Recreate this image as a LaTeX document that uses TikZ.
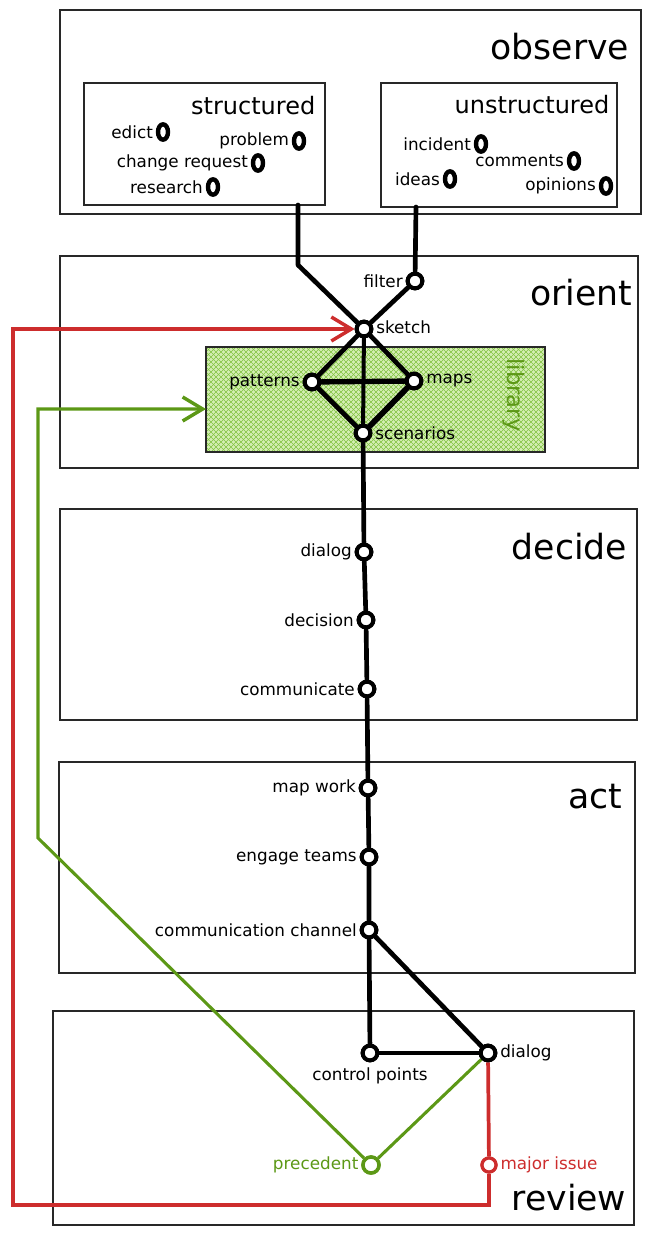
\documentclass[tikz,border=0pt]{standalone}
\usepackage{fontspec}
\setmainfont{DejaVu Sans}
\usetikzlibrary{arrows.meta,shapes.geometric}
\definecolor{myred}{RGB}{205,45,45}
\definecolor{mygreen}{RGB}{92,152,22}
\definecolor{libfill}{RGB}{212,238,180}
\definecolor{libhatch}{RGB}{130,195,65}
\definecolor{boxline}{RGB}{40,40,40}
\begin{document}
\begin{tikzpicture}[x=0.75pt,y=-0.75pt,
  panel/.style={draw=boxline,line width=1.1pt},
  ring/.style={circle,draw=black,fill=white,line width=3pt,inner sep=0pt,minimum size=11pt},
  oring/.style={ellipse,draw=black,fill=white,line width=3.3pt,inner sep=0pt,minimum width=7.5pt,minimum height=11.5pt},
  lab/.style={font=\fontsize{12.6}{15}\selectfont,inner sep=2pt},
  ttl/.style={font=\fontsize{26}{31}\selectfont},
  sub/.style={font=\fontsize{18}{21}\selectfont},
  conn/.style={line width=3.5pt,line cap=round,line join=round},
  redl/.style={draw=myred,line width=2.8pt,line join=miter},
  greenl/.style={draw=mygreen,line width=2.3pt,line join=miter},
  tip/.style={-{Straight Barb[length=15pt,width=18pt,line width=2.6pt]}},
]
\useasboundingbox (0,0) rectangle (651,1234);

% ---------- panels ----------
\draw[panel] (60,10) rectangle (641,214);
\draw[panel] (84,83) rectangle (325,205);
\draw[panel] (381,83) rectangle (617,207);
\draw[panel] (60,256) rectangle (638,468);
\draw[panel] (60,509) rectangle (637,720);
\draw[panel] (59,762) rectangle (635,973);
\draw[panel] (53,1011) rectangle (634,1225);

% library
\fill[libfill] (206,347) rectangle (545,452);
\begin{scope}
  \clip (206,347) rectangle (545,452);
  \foreach \k in {0,5,...,460} {
    \draw[libhatch,line width=0.45pt] (206+\k,347) -- ++(-110,110);
    \draw[libhatch,line width=0.45pt] (91+\k,347) -- ++(110,110);
  }
\end{scope}
\draw[draw=boxline,line width=1pt] (206,347) rectangle (545,452);
\node[font=\fontsize{17}{20}\selectfont,text=mygreen,rotate=-90] (libt) at (514,395) {library};

% ---------- titles ----------
\node[ttl,anchor=east] (tobs) at (634,47) {observe};
\node[sub,anchor=east] (tstr) at (320,106) {structured};
\node[sub,anchor=east] (tuns) at (614,105) {unstructured};
\node[ttl,anchor=east] (tori) at (637,293) {orient};
\node[ttl,anchor=east] (tdec) at (632,547) {decide};
\node[ttl,anchor=east] (tact) at (627,797) {act};
\node[ttl,anchor=east] (trev) at (631,1198) {review};

% ---------- observe items ----------
\node[oring,label={[lab]left:edict}] (edict) at (163,132) {};
\node[oring,label={[lab]left:problem}] (problem) at (299,141) {};
\node[oring,label={[lab]left:change request}] (change) at (258,163) {};
\node[oring,label={[lab]left:research}] (research) at (213,187) {};
\node[oring,label={[lab]left:incident}] (incident) at (481,144) {};
\node[oring,label={[lab]left:comments}] (comments) at (574,161) {};
\node[oring,label={[lab]left:ideas}] (ideas) at (450,179) {};
\node[oring,label={[lab]left:opinions}] (opinions) at (606,186) {};

\coordinate (sbot) at (298,205);
\coordinate (ubot) at (416,207);

% ---------- flow nodes ----------
\node[ring,label={[lab]left:filter}] (filter) at (415,281) {};
\node[ring,label={[lab,yshift=1pt]right:sketch}] (sketch) at (364,329) {};
\node[ring,label={[lab]left:patterns}] (patterns) at (312,382) {};
\node[ring,label={[lab]right:maps}] (maps) at (414,381) {};
\node[ring,label={[lab]right:scenarios}] (scen) at (363,433) {};

\node[ring,label={[lab]left:dialog}] (dialog) at (364,552) {};
\node[ring,label={[lab]left:decision}] (decision) at (366,620) {};
\node[ring,label={[lab]left:communicate}] (communicate) at (367,689) {};

\node[ring,label={[lab]left:map work}] (mapwork) at (368,788) {};
\node[ring,label={[lab]left:engage teams}] (engage) at (369,857) {};
\node[ring,label={[lab]left:communication channel}] (channel) at (369,930) {};

\node[ring,label={[lab,yshift=-2pt]below:control points}] (control) at (370,1053) {};
\node[ring,label={[lab]right:dialog}] (rdialog) at (488,1053) {};
\node[ring,draw=mygreen,line width=2.6pt,minimum size=12pt,label={[lab,text=mygreen]left:precedent}] (precedent) at (371,1165) {};
\node[ring,draw=myred,line width=2.4pt,minimum size=10.5pt,label={[lab,text=myred]right:major issue}] (major) at (489,1165) {};

% ---------- feedback loops ----------
\coordinate (rc1) at (489,1205);
\coordinate (rc2) at (13,1205);
\coordinate (rc3) at (13,329);
\coordinate (gc1) at (38,838);
\coordinate (gc2) at (38,409);
\coordinate (libw) at (206,409);

\draw[greenl] (rdialog) -- (precedent);
\draw[greenl,tip] (precedent) -- (gc1) -- (gc2) -- (libw);
\draw[redl] (rdialog) -- (major);
\draw[redl,tip] (major) -- (rc1) -- (rc2) -- (rc3) -- (sketch);

% ---------- black connectors ----------
\draw[conn] (sbot) -- (298,265) -- (sketch);
\draw[conn] (ubot) -- (filter);
\draw[conn] (filter) -- (sketch);
\draw[conn] (sketch) -- (patterns);
\draw[conn] (sketch) -- (maps);
\draw[conn,line width=3pt] (sketch) -- (scen);
\draw[conn,line width=4pt] (patterns) -- (maps);
\draw[conn] (patterns) -- (scen);
\draw[conn,line width=4.3pt] (maps) -- (scen);
\draw[conn] (scen) -- (dialog) -- (decision) -- (communicate) -- (mapwork) -- (engage) -- (channel);
\draw[conn] (channel) -- (control);
\draw[conn] (channel) -- (rdialog);
\draw[conn] (control) -- (rdialog);

% redraw rings on top
\foreach \n in {filter,sketch,patterns,maps,scen,dialog,decision,communicate,mapwork,engage,channel,control,rdialog}
  \node[ring] at (\n) {};
\node[ring,draw=mygreen,line width=2.6pt,minimum size=12pt] at (precedent) {};
\node[ring,draw=myred,line width=2.4pt,minimum size=10.5pt] at (major) {};
\end{tikzpicture}
\end{document}
